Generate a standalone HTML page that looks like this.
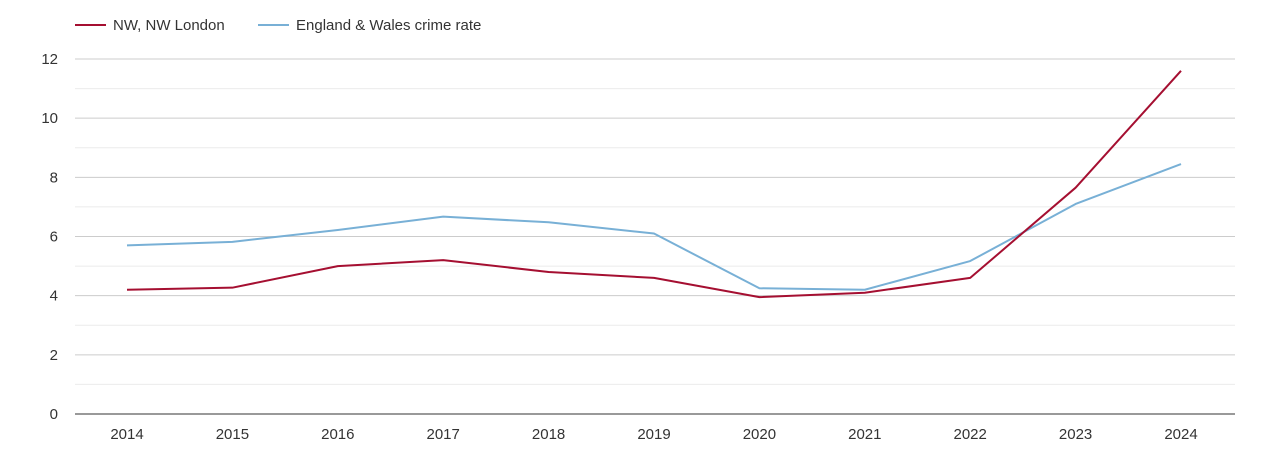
<!DOCTYPE html>
<html><head><meta charset="utf-8"><style>
body{margin:0;background:#fff;font-family:"Liberation Sans",Arial,sans-serif;}
svg text{font-family:"Liberation Sans",Arial,sans-serif;}
</style></head><body>
<svg id="chart" width="1270" height="450">
<g>
<g>
<line x1="75" y1="25" x2="106" y2="25" stroke="#a50f31" stroke-width="2"/>
<text x="113" y="30" font-size="15" fill="#333">NW, NW London</text></g>
<g>
<line x1="258" y1="25" x2="289" y2="25" stroke="#78b0d6" stroke-width="2"/>
<text x="296" y="30" font-size="15" fill="#333">England &amp; Wales crime rate</text></g>
</g>
<g id="grid"></g>
<g id="yaxis"></g>
<g id="xaxis"></g>
<g id="series"></g>
</svg>
<script>
const years = [2014,2015,2016,2017,2018,2019,2020,2021,2022,2023,2024];
const nwLondon = [4.2,4.27,5.0,5.2,4.8,4.6,3.95,4.1,4.6,7.65,11.6];
const englandWales = [5.7,5.82,6.22,6.67,6.48,6.1,4.25,4.2,5.17,7.1,8.45];
const yTicks = [0,2,4,6,8,10,12];
const NS="http://www.w3.org/2000/svg";
const x0=75,x1=1235,y0=414,y1=59;
function xs(i){return 127+i*(1181-127)/(years.length-1);}
function ys(v){return y0-(v-0)/(12-0)*(y0-y1);}
function mk(t,a,p){const e=document.createElementNS(NS,t);for(const k in a)e.setAttribute(k,a[k]);p.appendChild(e);return e;}
const grid=document.getElementById('grid'),ya=document.getElementById('yaxis'),xa=document.getElementById('xaxis'),se=document.getElementById('series');
for(let v=1;v<=12;v+=2){const l=mk('line',{x1:x0,x2:x1,y1:ys(v),y2:ys(v),stroke:'#ebebeb','stroke-width':1},grid);

}
yTicks.forEach(v=>{const l=mk('line',{x1:x0,x2:x1,y1:ys(v),y2:ys(v),stroke:v===0?'#333':'#ccc','stroke-width':1},grid);


const t=mk('text',{x:58,y:ys(v)+5,'text-anchor':'end','font-size':15,fill:'#333'},ya);t.textContent=v;

});
years.forEach((yr,i)=>{const t=mk('text',{x:xs(i),y:439,'text-anchor':'middle','font-size':15,fill:'#333'},xa);t.textContent=yr;

});
function line(vals,color,name){const p=mk('polyline',{points:vals.map((v,i)=>xs(i)+','+ys(v)).join(' '),fill:'none',stroke:color,'stroke-width':2,'stroke-linejoin':'round'},se);

}
line(englandWales,'#78b0d6','england-wales-line');
line(nwLondon,'#a50f31','nw-london-line');
</script>
</body></html>
